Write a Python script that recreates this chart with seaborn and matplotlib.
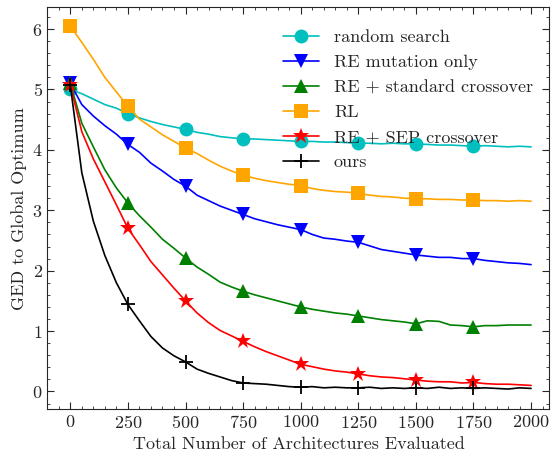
import numpy as np
import pandas as pd
import matplotlib
matplotlib.use("Agg")
import matplotlib.pyplot as plt
from matplotlib.ticker import MultipleLocator
import seaborn as sns

# 평가 횟수 (50 간격)
evals = list(range(0, 2001, 50))

random_search = [5.00, 4.93, 4.84, 4.75, 4.69, 4.60, 4.53, 4.47, 4.42, 4.38, 4.34, 4.29, 4.26, 4.22,
                 4.20, 4.18, 4.18, 4.17, 4.16, 4.15, 4.14, 4.14, 4.13, 4.13, 4.12, 4.11, 4.11, 4.10,
                 4.11, 4.10, 4.10, 4.09, 4.08, 4.08, 4.07, 4.06, 4.07, 4.06, 4.05, 4.06, 4.05]
re_mutation = [5.10, 4.75, 4.56, 4.40, 4.26, 4.09, 3.96, 3.78, 3.65, 3.51, 3.40, 3.25, 3.16, 3.07,
               3.00, 2.93, 2.86, 2.81, 2.76, 2.72, 2.68, 2.60, 2.54, 2.52, 2.49, 2.47, 2.41, 2.35,
               2.32, 2.29, 2.26, 2.24, 2.22, 2.22, 2.20, 2.20, 2.17, 2.15, 2.13, 2.12, 2.10]
re_standard = [5.10, 4.44, 4.05, 3.67, 3.37, 3.12, 2.91, 2.72, 2.52, 2.37, 2.21, 2.06, 1.94, 1.81,
               1.73, 1.66, 1.60, 1.55, 1.50, 1.45, 1.40, 1.36, 1.33, 1.30, 1.28, 1.25, 1.22, 1.19,
               1.17, 1.15, 1.12, 1.17, 1.16, 1.10, 1.09, 1.07, 1.09, 1.09, 1.10, 1.10, 1.10]
rl = [6.05, 5.78, 5.50, 5.20, 4.96, 4.72, 4.51, 4.38, 4.25, 4.14, 4.03, 3.94, 3.83, 3.73,
      3.65, 3.58, 3.53, 3.49, 3.46, 3.43, 3.41, 3.36, 3.33, 3.31, 3.30, 3.28, 3.25, 3.23,
      3.22, 3.20, 3.19, 3.19, 3.18, 3.18, 3.17, 3.17, 3.16, 3.16, 3.15, 3.16, 3.15]
re_sep = [5.07, 4.30, 3.85, 3.47, 3.09, 2.70, 2.43, 2.15, 1.93, 1.71, 1.50, 1.30, 1.14, 1.01,
          0.92, 0.83, 0.74, 0.66, 0.59, 0.52, 0.45, 0.41, 0.37, 0.34, 0.32, 0.29, 0.26, 0.24,
          0.23, 0.21, 0.19, 0.17, 0.16, 0.16, 0.14, 0.15, 0.13, 0.12, 0.12, 0.11, 0.10]
ours = [5.07, 3.62, 2.82, 2.25, 1.80, 1.44, 1.17, 0.91, 0.72, 0.59, 0.49, 0.37, 0.30, 0.24,
        0.18, 0.14, 0.13, 0.12, 0.10, 0.08, 0.07, 0.08, 0.06, 0.07, 0.06, 0.06, 0.07, 0.05,
        0.06, 0.05, 0.06, 0.05, 0.07, 0.05, 0.06, 0.05, 0.06, 0.05, 0.04, 0.06, 0.05]

series = [("random search", random_search, "c", "o", 10),
          ("RE mutation only", re_mutation, "b", "v", 10),
          ("RE + standard crossover", re_standard, "g", "^", 10),
          ("RL", rl, "orange", "s", 10),
          ("RE + SEP crossover", re_sep, "r", "*", 12),
          ("ours", ours, "k", "+", 10)]

sns.set_style("ticks")
plt.rcParams["font.family"] = ["cmr10", "DejaVu Serif"]
plt.rcParams["axes.formatter.use_mathtext"] = True
plt.rcParams["mathtext.fontset"] = "cm"
plt.rcParams["font.size"] = 13

fig = plt.figure(figsize=(5.51, 4.59), dpi=100)
ax = fig.add_axes([0.0862, 0.109, 0.9107, 0.875])

# 마커는 0~1750 구간에서 250 간격 (2000 에는 없음)
mark_idx = list(range(0, 36, 5))

for name, vals, col, mk, ms in series:
    df = pd.DataFrame({"evals": evals, "ged": vals})
    sns.lineplot(data=df, x="evals", y="ged", color=col, marker=mk, markersize=ms,
                 markevery=mark_idx, markeredgecolor=col,
                 markeredgewidth=1.3 if mk == "+" else 0, linewidth=1.2,
                 label=name, ax=ax)

ax.set_xlim(-99, 2079)
ax.set_ylim(-0.29, 6.36)
ax.set_xticks(range(0, 2001, 250))
ax.xaxis.set_minor_locator(MultipleLocator(50))
ax.yaxis.set_minor_locator(MultipleLocator(0.2))
ax.tick_params(which="both", direction="in", top=True, right=True, labelsize=13)
ax.tick_params(which="major", length=5)
ax.tick_params(which="minor", length=2.5)
ax.set_xlabel("Total Number of Architectures Evaluated", fontsize=13)
ax.set_ylabel("GED to Global Optimum", fontsize=13)

ax.legend(frameon=False, loc="upper right", bbox_to_anchor=(1.0, 0.985), fontsize=13,
          handlelength=2.0, labelspacing=0.52)

fig.savefig("out.png", dpi=100)
